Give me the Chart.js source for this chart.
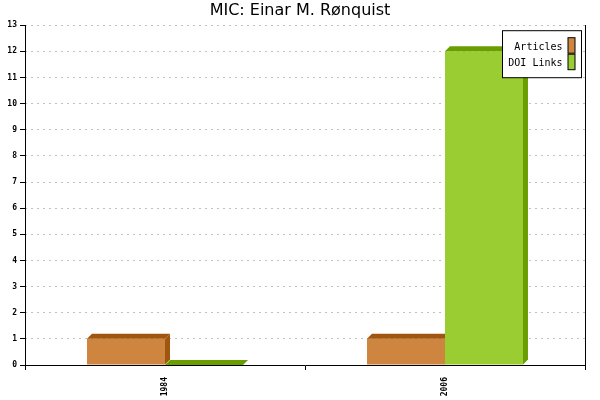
<!DOCTYPE html>
<html>
<head>
<meta charset="utf-8">
<script src="https://cdn.jsdelivr.net/npm/chart.js@4"></script>
<style>
  html, body { margin: 0; padding: 0; background: #fff; }
  canvas { display: block; }
</style>
</head>
<body>
<canvas id="c" width="600" height="400"></canvas>
<script>
const chartTitle = 'MIC: Einar M. Rønquist';
const categories = ['1984', '2006'];
const seriesNames = ['Articles', 'DOI Links'];
const articles = [1, 1];
const doiLinks = [0, 12];
const yMin = 0;
const yMax = 13;

const frontColors = ['#CD853F', '#9ACD32'];
const shadeColors = ['#A0560F', '#6A9E00'];
const DEPTH = 5;

const threeDBars = {
  id: 'threeDBars',
  beforeDatasetsDraw(chart) {
    const ctx = chart.ctx;
    const area = chart.chartArea;
    chart.data.datasets.forEach((ds, i) => {
      const meta = chart.getDatasetMeta(i);
      if (meta.hidden) return;
      meta.data.forEach((bar) => {
        const p = bar.getProps(['x', 'y', 'base', 'width'], true);
        const l = p.x - p.width / 2, r = p.x + p.width / 2;
        const top = Math.min(p.y, p.base), bot = Math.max(p.y, p.base);
        if (bot - top > 0) bar.draw(ctx, area);
        ctx.save();
        ctx.fillStyle = shadeColors[i];
        // top face
        ctx.beginPath();
        ctx.moveTo(l, top);
        ctx.lineTo(l + DEPTH, top - DEPTH);
        ctx.lineTo(r + DEPTH, top - DEPTH);
        ctx.lineTo(r, top);
        ctx.closePath();
        ctx.fill();
        // side face
        if (bot - top > 0) {
          ctx.beginPath();
          ctx.moveTo(r, top);
          ctx.lineTo(r + DEPTH, top - DEPTH);
          ctx.lineTo(r + DEPTH, bot - DEPTH);
          ctx.lineTo(r, bot);
          ctx.closePath();
          ctx.fill();
        }
        ctx.restore();
      });
    });
    return false;
  }
};

const boxLegend = {
  id: 'boxLegend',
  afterDraw(chart) {
    const ctx = chart.ctx;
    const area = chart.chartArea;
    const x1 = area.right - 3.5, x0 = x1 - 79;
    const y0 = area.top + 5.5, y1 = y0 + 47;
    ctx.save();
    ctx.fillStyle = '#fff';
    ctx.fillRect(x0, y0, x1 - x0, y1 - y0);
    ctx.strokeStyle = '#000';
    ctx.lineWidth = 1;
    ctx.strokeRect(x0, y0, x1 - x0, y1 - y0);
    ctx.font = '10px "DejaVu Sans Mono", monospace';
    ctx.textAlign = 'right';
    ctx.textBaseline = 'middle';
    chart.data.datasets.forEach((ds, i) => {
      const cy = y0 + 15 + i * 16.5;
      ctx.fillStyle = '#000';
      ctx.fillText(ds.label, x1 - 19, cy + 1.5);
      ctx.fillStyle = ds.backgroundColor;
      ctx.fillRect(x1 - 13.5, cy - 8, 7, 15.5);
      ctx.strokeRect(x1 - 13.5, cy - 8, 7, 15.5);
    });
    ctx.restore();
  }
};

new Chart(document.getElementById('c'), {
  type: 'bar',
  data: {
    labels: categories,
    datasets: [
      { label: seriesNames[0], data: articles, backgroundColor: frontColors[0], borderWidth: 0 },
      { label: seriesNames[1], data: doiLinks, backgroundColor: frontColors[1], borderWidth: 0 }
    ]
  },
  options: {
    responsive: false,
    devicePixelRatio: 1,
    animation: false,
    categoryPercentage: 0.557,
    barPercentage: 1.0,
    layout: { padding: 0 },
    plugins: {
      legend: { display: false },
      tooltip: { enabled: false },
      title: {
        display: true,
        text: chartTitle,
        color: '#000',
        font: { family: '"DejaVu Sans"', size: 16, weight: 'normal', lineHeight: 1.2 },
        padding: { top: 1, bottom: 5 }
      }
    },
    scales: {
      x: {
        offset: true,
        grid: { display: true, offset: true, drawOnChartArea: false, drawTicks: true, tickLength: 5, tickColor: '#000', tickWidth: 1 },
        border: { display: true, color: '#000', width: 1 },
        ticks: {
          color: '#000',
          minRotation: 90, maxRotation: 90,
          padding: 7,
          font: { family: '"DejaVu Sans Mono"', size: 8, weight: 'bold' }
        },
        afterFit(scale) { scale.height = 35; }
      },
      y: {
        min: yMin, max: yMax,
        grid: { color: '#C0C0C0', lineWidth: 1, tickLength: 5, tickColor: '#000', drawTicks: true },
        border: { display: true, color: '#000', width: 1, dash: [2, 4], dashOffset: -5 },
        ticks: {
          stepSize: 1, color: '#000', padding: 3,
          font: { family: '"DejaVu Sans Mono"', size: 8, weight: 'bold' }
        },
        afterFit(scale) { scale.width = 25; }
      },
      y2: {
        position: 'right',
        min: yMin, max: yMax,
        grid: { display: false, drawOnChartArea: false, drawTicks: false },
        border: { display: true, color: '#000', width: 1 },
        ticks: { display: false },
        afterFit(scale) { scale.width = 15; }
      }
    }
  },
  plugins: [threeDBars, boxLegend]
});
</script>
</body>
</html>
